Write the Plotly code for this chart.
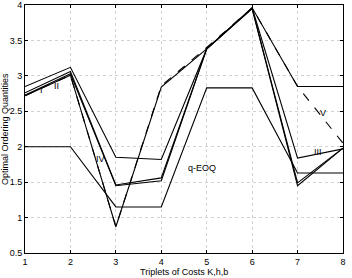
import plotly.graph_objects as go

x = [1, 2, 3, 4, 5, 6, 7, 8]
s_I = [2.73, 3.03, 1.45, 1.52, 3.38, 3.95, 1.45, 1.98]
s_II = [2.76, 3.06, 1.46, 1.56, 3.38, 3.95, 1.49, 1.98]
s_III = [2.85, 3.12, 1.85, 1.82, 3.38, 3.96, 1.84, 1.97]
s_IV = [2.72, 3.01, 0.87, 2.84, 3.38, 3.96, 2.85, 2.85]
s_V = [2.72, 3.01, 0.87, 2.86, 3.40, 3.96, 2.85, 2.05]
q_eoq = [2.0, 2.0, 1.15, 1.15, 2.83, 2.83, 1.63, 1.63]

labels = [("I", 1.37, 2.80), ("II", 1.70, 2.86), ("IV", 2.66, 1.82),
          ("q-EOQ", 4.9, 1.70), ("III", 7.46, 1.93), ("V", 7.55, 2.48)]

font_fam = "Liberation Sans"

fig = go.Figure()
for ys in [s_I, s_II, s_III, s_IV, q_eoq]:
    fig.add_trace(go.Scatter(x=x, y=ys, mode="lines",
                             line=dict(color="black", width=1.1)))
fig.add_trace(go.Scatter(x=x, y=s_V, mode="lines",
                         line=dict(color="black", width=1.1, dash="dash")))

for t, lx, ly in labels:
    fig.add_annotation(x=lx, y=ly, text=t, showarrow=False,
                       font=dict(size=9, color="black", family=font_fam))

fig.add_annotation(xref="paper", yref="paper", x=0.5, y=0, yshift=-12,
                   text="Triplets of Costs K,h,b", showarrow=False,
                   yanchor="top", font=dict(size=9, color="black", family=font_fam))
fig.add_annotation(xref="paper", yref="paper", x=0, xshift=-13, y=0.5,
                   text="Optimal Ordering Quantities", showarrow=False, textangle=-90,
                   xanchor="right", font=dict(size=9, color="black", family=font_fam))

axis_common = dict(showline=True, linecolor="black", linewidth=1, mirror="ticks",
                   ticks="inside", ticklen=3, tickcolor="black",
                   showgrid=True, gridcolor="#d2d2d2", griddash="dot", gridwidth=1,
                   zeroline=False, automargin=False, ticklabeloverflow="allow",
                   tickfont=dict(size=9, color="black", family=font_fam))

fig.update_xaxes(range=[1, 8], tickvals=x, ticktext=[str(v) for v in x],
                 **axis_common)
fig.update_yaxes(range=[0.5, 4], tickvals=[0.5, 1, 1.5, 2, 2.5, 3, 3.5, 4],
                 ticktext=["0.5", "1", "1.5", "2", "2.5", "3", "3.5", "4"],
                 **axis_common)

fig.update_layout(width=352, height=278, showlegend=False,
                  margin=dict(l=25, r=9, t=5, b=25),
                  plot_bgcolor="white", paper_bgcolor="white")

fig.write_html("out.html")
